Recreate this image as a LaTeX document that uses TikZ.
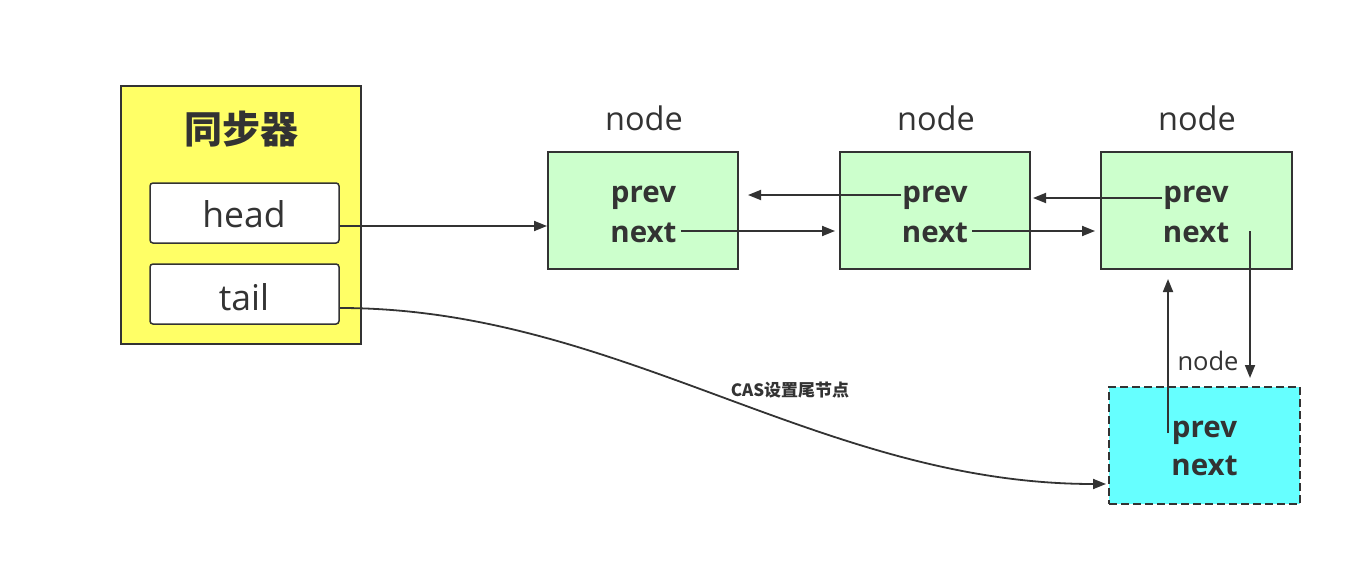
\documentclass[tikz,border=0pt]{standalone}
\usepackage{fontspec}
\setmainfont{Open Sans}
\newfontfamily\cjk{Noto Sans CJK SC}
\usetikzlibrary{arrows.meta}
\definecolor{ink}{HTML}{333333}
\definecolor{syncfill}{HTML}{FFFF66}
\definecolor{nodefill}{HTML}{CCFFCC}
\definecolor{newfill}{HTML}{66FFFF}
\tikzset{
  box/.style={draw=ink, line width=2pt, inner sep=0pt},
  fieldbox/.style={draw=ink, line width=1.5pt, fill=white, rounded corners=3pt, minimum width=189pt, minimum height=60pt, inner sep=0pt},
  listbox/.style={box, fill=nodefill, minimum width=190pt, minimum height=117pt},
  fieldtxt/.style={text=ink, font=\bfseries\fontsize{29.5}{31}\selectfont, inner sep=0pt, anchor=base},
  lbl/.style={text=ink, font=\fontsize{32.5}{35}\selectfont, inner sep=0pt, anchor=base},
  conn/.style={draw=ink, line width=1.8pt, -{Triangle[length=13pt,width=10pt]}},
}
\begin{document}
\begin{tikzpicture}[x=1pt,y=-1pt]
\path[use as bounding box, fill=white] (0,0) rectangle (1362,567);
% synchronizer
\node[box, fill=syncfill, minimum width=240pt, minimum height=258pt] (sync) at (241,215) {};
\node[text=ink, font=\cjk\bfseries\fontsize{38}{40}\selectfont, inner sep=0pt] (title) at (241.5,129) {同步器};
\node[fieldbox] (head) at (244.5,213) {};
\node[lbl, font=\fontsize{35.5}{38}\selectfont] (headt) at (244,227) {head};
\node[fieldbox] (tail) at (244.5,294) {};
\node[lbl, font=\fontsize{35.5}{38}\selectfont] (tailt) at (244,310) {tail};
% list nodes
\node[listbox] (b1) at (643,210.5) {};
\node[listbox] (b2) at (935,210.5) {};
\node[listbox, minimum width=191pt] (b3) at (1196.5,210.5) {};
\node[box, fill=newfill, dashed, dash pattern=on 8pt off 4pt, minimum width=191pt, minimum height=117pt] (b4) at (1204.5,445.5) {};
\node[lbl] (l1) at (644,131) {node};
\node[lbl] (l2) at (936,131) {node};
\node[lbl] (l3) at (1197,131) {node};
\node[lbl, font=\fontsize{25.5}{28}\selectfont] (l4) at (1208,370) {node};
\node[fieldtxt] (p1) at (643.5,202) {prev};
\node[fieldtxt] (n1) at (643.5,242) {next};
\node[fieldtxt] (p2) at (935,202) {prev};
\node[fieldtxt] (n2) at (935,242) {next};
\node[fieldtxt] (p3) at (1196,202) {prev};
\node[fieldtxt] (n3) at (1196,242) {next};
\node[fieldtxt] (p4) at (1204.5,437) {prev};
\node[fieldtxt] (n4) at (1204.5,475) {next};
% connectors
\draw[conn] ([yshift=-13pt]head.east) -- ([yshift=-13pt]head.east -| b1.west);
\draw[conn, shorten >=4pt] ([xshift=4pt,yshift=11pt]n1.base east) -- ([yshift=11pt]n1.base east -| b2.west);
\draw[conn, shorten >=9pt] ([xshift=-1pt,yshift=7pt]p2.base west) -- ([yshift=7pt]p2.base west -| b1.east);
\draw[conn, shorten >=5pt] ([xshift=4pt,yshift=11pt]n2.base east) -- ([yshift=11pt]n2.base east -| b3.west);
\draw[conn, shorten >=2pt] ([xshift=-1pt,yshift=4pt]p3.base west) -- ([yshift=4pt]p3.base west -| b2.east);
\coordinate (c3) at (1250,231);
\draw[conn, shorten >=8pt] (c3) -- (c3 |- b4.north);
\coordinate (c4) at (1168,433);
\draw[conn, shorten >=9pt] (c4) -- (c4 |- b3.south);
\draw[conn, shorten >=2pt] ([yshift=-14pt]tail.east) .. controls (620,308) and (820,484) .. ([yshift=-38.5pt]b4.west);
\node[text=ink, font=\cjk\bfseries\fontsize{17}{20}\selectfont, inner sep=0pt] (cas) at (790,390) {CAS设置尾节点};
\end{tikzpicture}
\end{document}
